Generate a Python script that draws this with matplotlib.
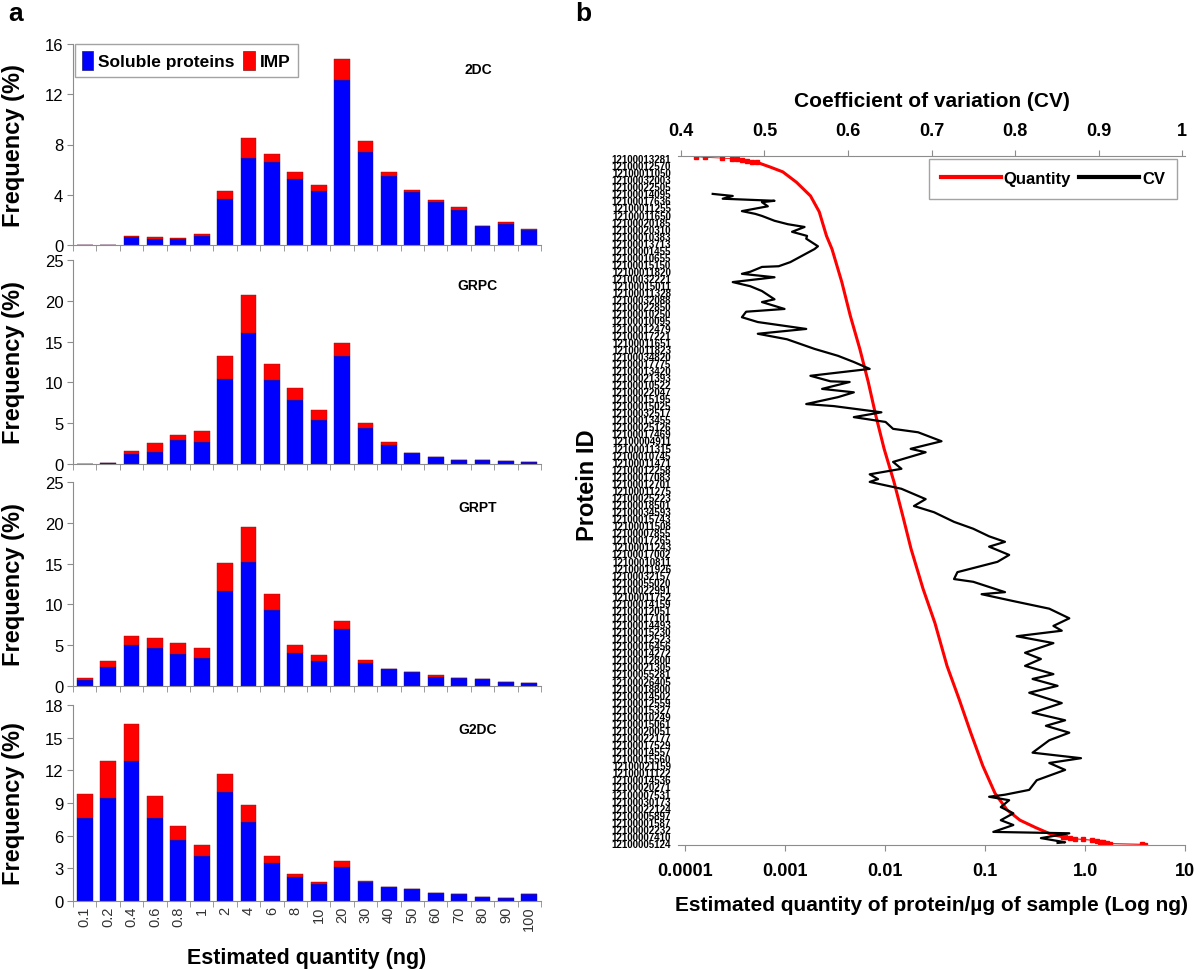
import numpy as np
import matplotlib
matplotlib.use('Agg')
from matplotlib import pyplot as plt
from matplotlib.patches import Patch
from matplotlib.lines import Line2D

plt.rcParams['font.family'] = ['Liberation Sans', 'DejaVu Sans']
NARROW = ['Liberation Sans Narrow', 'Liberation Sans', 'DejaVu Sans']

# ---- panel a: frequency of estimated quantity ----
qty_labels = ['0.1', '0.2', '0.4', '0.6', '0.8', '1', '2', '4', '6', '8',
              '10', '20', '30', '40', '50', '60', '70', '80', '90', '100']

sol_2dc = [0, 0, 0.65, 0.5, 0.5, 0.75, 3.7, 6.95, 6.6, 5.25, 4.3, 13.1, 7.4, 5.5, 4.2, 3.4, 2.8, 1.5, 1.65, 1.2]
imp_2dc = [0, 0, 0.1, 0.1, 0.05, 0.1, 0.6, 1.55, 0.65, 0.6, 0.45, 1.7, 0.9, 0.35, 0.15, 0.2, 0.2, 0, 0.2, 0.1]

sol_grpc = [0, 0.08, 1.2, 1.5, 2.9, 2.75, 10.4, 16.1, 10.3, 7.9, 5.4, 13.2, 4.4, 2.3, 1.3, 0.8, 0.55, 0.45, 0.35, 0.2]
imp_grpc = [0, 0.02, 0.4, 1.1, 0.6, 1.3, 2.8, 4.6, 2.0, 1.4, 1.25, 1.6, 0.6, 0.4, 0.05, 0, 0, 0, 0, 0]

sol_grpt = [0.75, 2.3, 5.0, 4.7, 3.9, 3.45, 11.6, 15.2, 9.3, 4.1, 3.05, 6.95, 2.8, 2.05, 1.7, 1.05, 1.0, 0.9, 0.55, 0.35]
imp_grpt = [0.25, 0.8, 1.1, 1.2, 1.4, 1.2, 3.5, 4.3, 2.0, 0.9, 0.7, 1.0, 0.4, 0, 0.05, 0.25, 0, 0, 0, 0]

sol_g2dc = [7.6, 9.5, 12.9, 7.65, 5.6, 4.15, 10.0, 7.3, 3.45, 2.2, 1.6, 3.1, 1.75, 1.25, 1.1, 0.7, 0.6, 0.4, 0.3, 0.6]
imp_g2dc = [2.2, 3.4, 3.4, 1.95, 1.3, 1.0, 1.65, 1.55, 0.65, 0.3, 0.15, 0.55, 0.05, 0.05, 0, 0, 0, 0, 0, 0]

methods = ['2DC', 'GRPC', 'GRPT', 'G2DC']
y_max = [16, 25, 25, 18]
y_step = [4, 5, 5, 3]

# ---- panel b: protein quantity (sorted) and CV ----
qty_rank = [9, 16, 23, 38, 58, 81, 116, 135, 183, 232, 280, 328, 377, 425, 473, 523, 570,
            628, 678, 740, 788, 837, 885, 925, 949, 964, 975, 985, 988]
qty_value = [5.2e-4, 7.1e-4, 9.5e-4, 1.3e-3, 1.8e-3, 2.2e-3, 2.6e-3, 2.95e-3, 3.7e-3, 4.5e-3,
             5.6e-3, 6.8e-3, 8.1e-3, 9.8e-3, 0.0123, 0.0151, 0.0182, 0.024, 0.0316, 0.0417,
             0.055, 0.072, 0.095, 0.126, 0.166, 0.224, 0.324, 0.468, 0.6]
top_tail_rank = [1, 2, 3, 4, 5, 6, 7, 8, 9]
top_tail_value = [1.29e-4, 1.58e-4, 2.34e-4, 2.95e-4, 3.31e-4, 3.72e-4, 4.17e-4, 4.68e-4, 5.25e-4]
low_tail_rank = [988, 989, 990, 991, 992, 993, 994, 995, 996, 997, 998, 999, 1000]
low_tail_value = [0.6, 0.63, 0.71, 0.79, 0.955, 1.17, 1.32, 1.41, 1.51, 1.66, 1.78, 3.72, 3.98]

cv_rank = [55, 58, 62, 65, 67, 73, 80, 84, 87, 94, 99, 103, 110, 116, 120, 131, 135, 154, 160,
           161, 168, 171, 176, 183, 189, 196, 208, 212, 222, 226, 234, 241, 251, 258, 266, 280,
           290, 299, 309, 319, 327, 328, 338, 343, 350, 360, 363, 372, 379, 386, 396, 401, 414,
           425, 430, 444, 454, 462, 469, 473, 483, 498, 508, 517, 531, 541, 552, 560, 567, 579,
           589, 604, 614, 618, 633, 636, 646, 657, 671, 682, 689, 697, 707, 721, 730, 740, 752,
           759, 769, 779, 794, 808, 819, 827, 837, 848, 866, 874, 881, 891, 906, 920, 927, 930,
           935, 945, 954, 964, 971, 981, 983, 990, 996, 997]
cv_value = [0.438, 0.462, 0.450, 0.512, 0.497, 0.504, 0.473, 0.489, 0.497, 0.512, 0.528, 0.548,
            0.533, 0.551, 0.550, 0.564, 0.560, 0.531, 0.517, 0.497, 0.483, 0.473, 0.512, 0.462,
            0.483, 0.497, 0.512, 0.497, 0.524, 0.478, 0.473, 0.492, 0.550, 0.492, 0.527, 0.560,
            0.588, 0.607, 0.626, 0.555, 0.579, 0.602, 0.569, 0.607, 0.588, 0.550, 0.583, 0.640,
            0.607, 0.645, 0.654, 0.684, 0.712, 0.675, 0.693, 0.654, 0.664, 0.626, 0.636, 0.626,
            0.664, 0.693, 0.679, 0.703, 0.727, 0.750, 0.769, 0.788, 0.769, 0.793, 0.779, 0.731,
            0.727, 0.750, 0.788, 0.760, 0.798, 0.841, 0.865, 0.846, 0.856, 0.802, 0.846, 0.812,
            0.831, 0.812, 0.846, 0.821, 0.851, 0.817, 0.856, 0.821, 0.860, 0.837, 0.865, 0.841,
            0.821, 0.879, 0.841, 0.860, 0.826, 0.817, 0.788, 0.769, 0.793, 0.783, 0.798, 0.783,
            0.798, 0.774, 0.865, 0.831, 0.860, 0.851]

protein_ids = """
12100013281 12100012570 12100011050 12100032003 12100022505 12100014095 12100017636
12100011255 12100011650 12100020185 12100020310 12100010383 12100013713 12100001455
12100010655 12100015150 12100011820 12100032221 12100015011 12100011328 12100032088
12100022850 12100010250 12100010095 12100012479 12100017221 12100011651 12100011823
12100034820 12100017775 12100013420 12100021393 12100010522 12100022047 12100015195
12100015025 12100032517 12100013455 12100025126 12100017469 12100004911 12100011315
12100010745 12100011471 12100012258 12100017083 12100012701 12100011275 12100025223
12100018501 12100034593 12100015743 12100011508 12100007855 12100017265 12100011243
12100017002 12100010811 12100011926 12100032157 12100055020 12100022991 12100011752
12100014159 12100012051 12100017101 12100014493 12100015230 12100012523 12100016456
12100014272 12100012800 12100021305 12100055281 12100026405 12100018800 12100014502
12100012559 12100015327 12100010249 12100015061 12100020051 12100022177 12100017529
12100014557 12100015560 12100021159 12100011122 12100014536 12100020271 12100007531
12100030173 12100022124 12100005897 12100001587 12100002232 12100007410 12100005124
""".split()

bottom_ticks = [1e-4, 1e-3, 1e-2, 1e-1, 1, 10]
bottom_labels = ['0.0001', '0.001', '0.01', '0.1', '1.0', '10']
cv_ticks = [0.4, 0.5, 0.6, 0.7, 0.8, 0.9, 1.0]
cv_labels = ['0.4', '0.5', '0.6', '0.7', '0.8', '0.9', '1']

BLUE = '#0000ff'
RED = '#ff0000'
GREY = '#8c8c8c'

fig = plt.figure(figsize=(12.02, 9.70), dpi=100)
W, H = 1202.0, 970.0

# pixel boxes (top, bottom) of the four histograms
boxes = [(45, 246), (261, 465), (483, 687), (706, 902)]
soluble = [sol_2dc, sol_grpc, sol_grpt, sol_g2dc]
imp = [imp_2dc, imp_grpc, imp_grpt, imp_g2dc]
x = np.arange(len(qty_labels))

for i, (top, bot) in enumerate(boxes):
    ax = fig.add_axes([73 / W, 1 - bot / H, 468 / W, (bot - top) / H])
    ax.bar(x, soluble[i], width=0.68, color=BLUE, edgecolor='#1a1a80', linewidth=0.3)
    ax.bar(x, imp[i], width=0.68, bottom=soluble[i], color=RED, edgecolor='#801a1a', linewidth=0.3)
    ax.set_xlim(-0.5, len(qty_labels) - 0.5)
    ax.set_ylim(0, y_max[i])
    ax.set_yticks(np.arange(0, y_max[i] + 1, y_step[i]))
    ax.tick_params(axis='y', labelsize=12, color=GREY, length=4, pad=3)
    ax.set_xticks(x)
    ax.set_xticks(np.arange(-0.5, len(qty_labels)), minor=True)
    ax.tick_params(axis='x', which='major', length=0)
    ax.tick_params(axis='x', which='minor', length=4, color=GREY)
    if i == 3:
        ax.set_xticklabels(qty_labels, rotation=90, fontsize=10.5, color='#333333')
        ax.set_xlabel('Estimated quantity (ng)', fontsize=15.5, fontweight='bold', labelpad=12)
    else:
        ax.set_xticklabels([])
    for s in ['top', 'right']:
        ax.spines[s].set_visible(False)
    for s in ['left', 'bottom']:
        ax.spines[s].set_color(GREY)
    ax.set_ylabel('Frequency (%)', fontsize=17, fontweight='bold')
    ax.yaxis.set_label_coords(-0.103, 0.5)
    ax.text(0.865, 0.875, methods[i], transform=ax.transAxes, ha='center', va='center',
            fontsize=10, fontweight='bold')
    if i == 0:
        handles = [Patch(facecolor=BLUE, edgecolor='#1a1a80', linewidth=0.5),
                   Patch(facecolor=RED, edgecolor='#801a1a', linewidth=0.5)]
        leg = ax.legend(handles, ['Soluble proteins', 'IMP'], loc='upper left',
                        bbox_to_anchor=(0.004, 1.0), ncol=2, fancybox=False,
                        prop={'weight': 'bold', 'size': 12.5}, handlelength=0.65,
                        handleheight=1.3, handletextpad=0.3, columnspacing=0.5,
                        borderpad=0.4, borderaxespad=0.0)
        leg.get_frame().set_edgecolor(GREY)
        leg.get_frame().set_linewidth(1.0)

# ---- panel b ----
# axes spans 678..1185 px; 0.0001 sits at 685 px, 0.4 CV at 675 px
axb = fig.add_axes([678 / W, 1 - 846 / H, 507 / W, 689 / H])
axb.plot(qty_value, qty_rank, color=RED, lw=2.2, solid_capstyle='butt', zorder=2)
axb.plot(top_tail_value, top_tail_rank, color=RED, lw=0.6, marker='s', ms=2.6, zorder=2)
axb.plot(low_tail_value, low_tail_rank, color=RED, lw=0.8, marker='s', ms=2.2, zorder=2)
axb.set_xscale('log')
axb.set_xlim(10 ** -4.07, 10)
axb.set_ylim(1000, 0)
axb.set_xticks(bottom_ticks)
axb.set_xticklabels(bottom_labels, fontsize=13, fontweight='bold', family=NARROW)
axb.xaxis.set_minor_locator(matplotlib.ticker.NullLocator())
axb.tick_params(axis='x', color=GREY, length=4, pad=8)
axb.set_xlabel('Estimated quantity of protein/\u00b5g of sample (Log ng)', fontsize=15,
               fontweight='bold', family=NARROW, labelpad=12)
pos = np.linspace(3, 997, len(protein_ids))
axb.set_yticks(pos)
axb.set_yticklabels(protein_ids, fontsize=7, fontweight='bold', family=NARROW)
axb.tick_params(axis='y', length=0, pad=5)
for s in ['left', 'right', 'top']:
    axb.spines[s].set_visible(False)
axb.spines['bottom'].set_color(GREY)

axt = axb.twiny()
axt.plot(cv_value, cv_rank, color='black', lw=1.6, zorder=3)
axt.set_xlim(0.4 - 3 / 845, 1.0 + 3 / 845)
axt.set_ylim(1000, 0)
axt.set_xticks(cv_ticks)
axt.set_xticklabels(cv_labels, fontsize=13, fontweight='bold', family=NARROW)
axt.tick_params(axis='x', color=GREY, length=4, pad=8)
axt.set_xlabel('Coefficient of variation (CV)', fontsize=15, fontweight='bold',
               family=NARROW, labelpad=12)
for s in ['left', 'right', 'bottom']:
    axt.spines[s].set_visible(False)
axt.spines['top'].set_color(GREY)

lh = [Line2D([], [], color=RED, lw=3), Line2D([], [], color='black', lw=3)]
legb = axt.legend(lh, ['Quantity', 'CV'], loc='upper right', bbox_to_anchor=(0.985, 0.996),
                  ncol=2, fancybox=False, prop={'weight': 'bold', 'size': 12, 'family': NARROW},
                  handlelength=3.6, handletextpad=0.15, columnspacing=0.5,
                  borderpad=0.75, borderaxespad=0.0)
legb.get_frame().set_edgecolor(GREY)
legb.get_frame().set_linewidth(1.0)

fig.text(587 / W, 1 - 485 / H, 'Protein ID', rotation=90, ha='center', va='center',
         fontsize=17, fontweight='bold')
fig.text(8 / W, 1 - 2 / H, 'a', fontsize=19, fontweight='bold', va='top')
fig.text(575 / W, 1 - 2 / H, 'b', fontsize=19, fontweight='bold', va='top')

fig.savefig('out.png', dpi=100)
